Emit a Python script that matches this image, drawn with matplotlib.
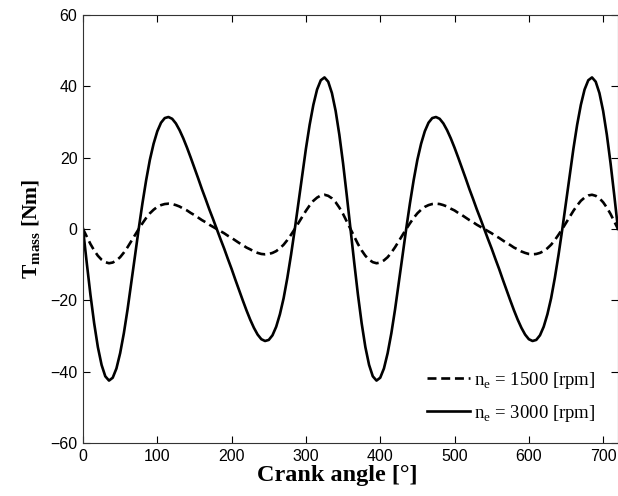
import numpy as np
import matplotlib
matplotlib.use("Agg")
import matplotlib.pyplot as plt

# Crank angle samples [deg]
crank_angle = np.arange(0, 725, 5)

# Oscillating-mass torque at 3000 rpm [Nm], 0..720 deg in 5 deg steps
torque_3000 = [
    0.0, -9.4, -18.4, -26.4, -33.1, -38.1, -41.3, -42.5, -41.7, -39.1,
    -34.8, -29.2, -22.5, -15.1, -7.5, 0.1, 7.2, 13.7, 19.4, 23.9,
    27.4, 29.8, 31.1, 31.4, 30.9, 29.6, 27.7, 25.4, 22.8, 20.0,
    17.1, 14.2, 11.2, 8.4, 5.5, 2.8, 0.0, -2.8, -5.5, -8.4,
    -11.2, -14.2, -17.1, -20.0, -22.8, -25.4, -27.7, -29.6, -30.9, -31.4,
    -31.1, -29.8, -27.4, -23.9, -19.4, -13.7, -7.2, -0.1, 7.5, 15.1,
    22.5, 29.2, 34.8, 39.1, 41.7, 42.5, 41.3, 38.1, 33.1, 26.4,
    18.4, 9.4,
    0.0, -9.4, -18.4, -26.4, -33.1, -38.1, -41.3, -42.5, -41.7, -39.1,
    -34.8, -29.2, -22.5, -15.1, -7.5, 0.1, 7.2, 13.7, 19.4, 23.9,
    27.4, 29.8, 31.1, 31.4, 30.9, 29.6, 27.7, 25.4, 22.8, 20.0,
    17.1, 14.2, 11.2, 8.4, 5.5, 2.8, 0.0, -2.8, -5.5, -8.4,
    -11.2, -14.2, -17.1, -20.0, -22.8, -25.4, -27.7, -29.6, -30.9, -31.4,
    -31.1, -29.8, -27.4, -23.9, -19.4, -13.7, -7.2, -0.1, 7.5, 15.1,
    22.5, 29.2, 34.8, 39.1, 41.7, 42.5, 41.3, 38.1, 33.1, 26.4,
    18.4, 9.4, 0.0,
]

# Oscillating-mass torque at 1500 rpm [Nm]
torque_1500 = [
    0.0, -2.1, -4.2, -6.0, -7.5, -8.6, -9.3, -9.6, -9.4, -8.8,
    -7.9, -6.6, -5.1, -3.4, -1.7, 0.0, 1.6, 3.1, 4.4, 5.4,
    6.2, 6.7, 7.0, 7.1, 7.0, 6.7, 6.3, 5.7, 5.2, 4.5,
    3.9, 3.2, 2.5, 1.9, 1.2, 0.6, 0.0, -0.6, -1.2, -1.9,
    -2.5, -3.2, -3.9, -4.5, -5.2, -5.7, -6.3, -6.7, -7.0, -7.1,
    -7.0, -6.7, -6.2, -5.4, -4.4, -3.1, -1.6, 0.0, 1.7, 3.4,
    5.1, 6.6, 7.9, 8.8, 9.4, 9.6, 9.3, 8.6, 7.5, 6.0,
    4.2, 2.1,
    0.0, -2.1, -4.2, -6.0, -7.5, -8.6, -9.3, -9.6, -9.4, -8.8,
    -7.9, -6.6, -5.1, -3.4, -1.7, 0.0, 1.6, 3.1, 4.4, 5.4,
    6.2, 6.7, 7.0, 7.1, 7.0, 6.7, 6.3, 5.7, 5.2, 4.5,
    3.9, 3.2, 2.5, 1.9, 1.2, 0.6, 0.0, -0.6, -1.2, -1.9,
    -2.5, -3.2, -3.9, -4.5, -5.2, -5.7, -6.3, -6.7, -7.0, -7.1,
    -7.0, -6.7, -6.2, -5.4, -4.4, -3.1, -1.6, 0.0, 1.7, 3.4,
    5.1, 6.6, 7.9, 8.8, 9.4, 9.6, 9.3, 8.6, 7.5, 6.0,
    4.2, 2.1, 0.0,
]

x_ticks = [0, 100, 200, 300, 400, 500, 600, 700]
y_ticks = [-60, -40, -20, 0, 20, 40, 60]
label_1500 = r"n$_{\mathregular{e}}$ = 1500 [rpm]"
label_3000 = r"n$_{\mathregular{e}}$ = 3000 [rpm]"

plt.rcParams["mathtext.fontset"] = "custom"
plt.rcParams["mathtext.rm"] = "Liberation Serif"
plt.rcParams["mathtext.bf"] = "Liberation Serif:bold"

fig = plt.figure(figsize=(6.18, 4.96), dpi=100)
ax = fig.add_axes([83 / 618, 53 / 496, 535 / 618, 428 / 496])

ax.plot(crank_angle, torque_1500, color="black", lw=1.9, ls=(0, (3.4, 1.8)),
        label=label_1500)
ax.plot(crank_angle, torque_3000, color="black", lw=1.9, label=label_3000)

ax.set_xlim(0, 720)
ax.set_ylim(-60, 60)
ax.set_xticks(x_ticks)
ax.set_yticks(y_ticks)
ax.tick_params(direction="in", top=True, right=True, length=5, width=0.8,
               labelsize=11.5, pad=4)
for lab in ax.get_xticklabels() + ax.get_yticklabels():
    lab.set_fontfamily("Liberation Sans")
for sp in ax.spines.values():
    sp.set_linewidth(0.8)
    sp.set_color("#333333")

ax.set_xlabel("Crank angle [°]", family="Liberation Serif", fontweight="bold",
              fontsize=17.5)
ax.xaxis.set_label_coords(0.475, -0.051)
ax.set_ylabel(r"$\mathbf{T}_{\mathbf{mass}}$ [Nm]", family="Liberation Serif",
              fontweight="bold", fontsize=15.5, labelpad=5)

ax.legend(loc="lower right", bbox_to_anchor=(0.99, 0.005), frameon=False,
          prop={"family": "Liberation Serif", "size": 13.5},
          handlelength=2.3, handletextpad=0.25, labelspacing=0.65)

fig.savefig("out.png", dpi=100)
